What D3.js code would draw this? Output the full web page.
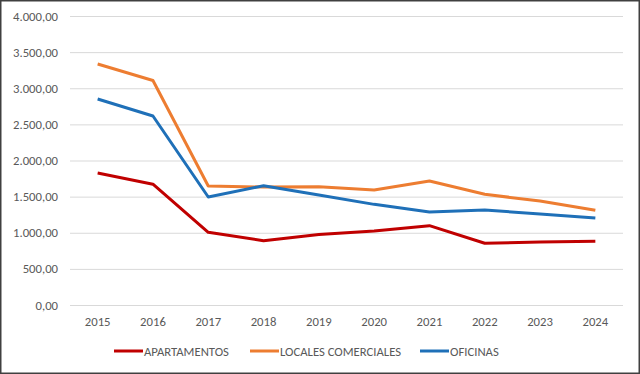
<!DOCTYPE html>
<html>
<head>
<meta charset="UTF-8" />
<script src="https://d3js.org/d3.v7.min.js"></script>
<style>
  body { margin: 0; background: #fff; }
  text { font-family: Carlito, "Liberation Sans Narrow", "Open Sans", sans-serif; fill: #595959; }
</style>
</head>
<body>
<svg id="chart" width="640" height="374"></svg>
<script>
var years = ["2015","2016","2017","2018","2019","2020","2021","2022","2023","2024"];
var apartamentos = [1827, 1672, 1006, 890, 975, 1024, 1098, 854, 872, 884];
var locales = [3336, 3107, 1647, 1633, 1638, 1592, 1716, 1532, 1439, 1311];
var oficinas = [2851, 2616, 1495, 1651, 1522, 1393, 1287, 1315, 1260, 1204];
var seriesNames = ["APARTAMENTOS", "LOCALES COMERCIALES", "OFICINAS"];
var seriesColors = ["#C00000", "#ED7D31", "#1F70B8"];
var yTicks = [0, 500, 1000, 1500, 2000, 2500, 3000, 3500, 4000];

var svg = d3.select("#chart"),
  width = +svg.attr("width"),
  height = +svg.attr("height");

svg.append("rect")
  .attr("x", 0.75).attr("y", 0.75)
  .attr("width", width - 1.5).attr("height", height - 1.5)
  .attr("fill", "#fff").attr("stroke", "#404040").attr("stroke-width", 1.5);

var x = d3.scaleBand().domain(years).range([70, 623]);
var y = d3.scaleLinear().domain([0, 4000]).range([305, 16]);

var fmt = d3.formatLocale({decimal: ",", thousands: ".", grouping: [3], currency: ["", ""]}).format(",.2f");

var yAxis = svg.append("g").attr("transform", "translate(70,0)")
  .call(d3.axisLeft(y).tickValues(yTicks).tickSize(-553).tickPadding(12).tickFormat(fmt));
yAxis.select(".domain").remove();
yAxis.selectAll("line").attr("stroke", "#D9D9D9").attr("stroke-width", 1);
yAxis.selectAll("text").style("font-size", "12.7px").attr("fill", "#595959");

var xAxis = svg.append("g").attr("transform", "translate(0,305)")
  .call(d3.axisBottom(x).tickSize(0).tickPadding(12));
xAxis.select(".domain").remove();
xAxis.selectAll("text").style("font-size", "12.7px").attr("fill", "#595959");

var line = d3.line()
  .x(function(d, i) { return x(years[i]) + x.bandwidth() / 2; })
  .y(function(d) { return y(d); });

[apartamentos, locales, oficinas].forEach(function(s, i) {
  svg.append("path")
    .datum(s)
    .attr("fill", "none")
    .attr("stroke", seriesColors[i])
    .attr("stroke-width", 3)
    .attr("stroke-linejoin", "round")
    .attr("d", line);
});

// legend
var legendX = [114, 250, 420];
var legend = svg.append("g").attr("transform", "translate(0,351)");
seriesNames.forEach(function(n, i) {
  legend.append("line")
    .attr("x1", legendX[i]).attr("x2", legendX[i] + 29)
    .attr("y1", 0).attr("y2", 0)
    .attr("stroke", seriesColors[i]).attr("stroke-width", 3);
  legend.append("text")
    .attr("x", legendX[i] + 30).attr("y", 4.5)
    .style("font-size", "12.7px")
    .text(n);
});
</script>
</body>
</html>
